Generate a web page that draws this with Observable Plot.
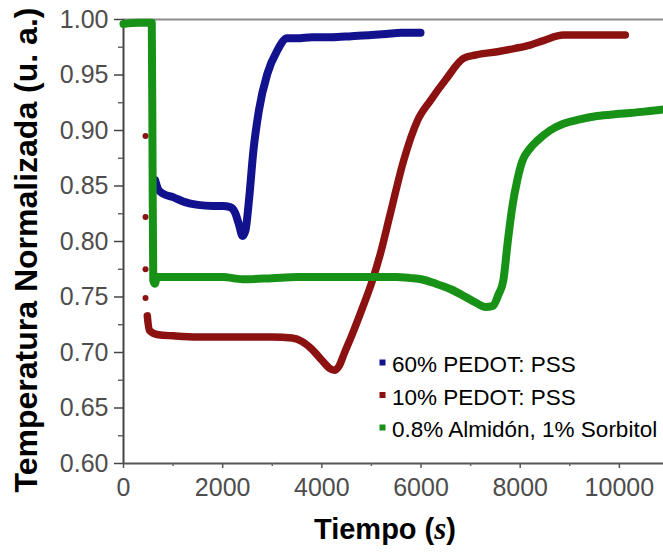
<!DOCTYPE html>
<html>
<head>
<meta charset="utf-8">
<script src="https://cdn.jsdelivr.net/npm/d3@7"></script>
<script src="https://cdn.jsdelivr.net/npm/@observablehq/plot@0.6"></script>
<style>
  html, body { margin: 0; padding: 0; background: #fff; }
  #chart { width: 663px; height: 552px; }
</style>
</head>
<body>
<div id="chart"></div>
<script>
// ---- Data ----
const seriesNames = ["60% PEDOT: PSS", "10% PEDOT: PSS", "0.8% Almidón, 1% Sorbitol"];
const seriesColors = ["#12128f", "#8c1212", "#179217"];

// 60% PEDOT: PSS (blue)
const blueT = [640, 700, 800, 1000, 1200, 1500, 1800, 2000, 2150, 2250, 2330, 2400, 2460, 2530, 2620, 2730, 2900, 3100, 3300, 3500, 3800, 4200, 4600, 5000, 5300, 5600, 5990];
const blueV = [0.855, 0.847, 0.843, 0.840, 0.836, 0.833, 0.832, 0.832, 0.831, 0.826, 0.815, 0.805, 0.810, 0.837, 0.882, 0.918, 0.951, 0.972, 0.983, 0.983, 0.984, 0.984, 0.985, 0.986, 0.987, 0.988, 0.988];

// 10% PEDOT: PSS (red)
const redT = [480, 520, 700, 1000, 1500, 2000, 2500, 3000, 3400, 3600, 3800, 4000, 4150, 4250, 4350, 4450, 4600, 4800, 5020, 5180, 5380, 5650, 5930, 6190, 6500, 6860, 7100, 7540, 7900, 8200, 8470, 8870, 9500, 10120];
const redV = [0.733, 0.720, 0.716, 0.715, 0.714, 0.714, 0.714, 0.714, 0.713, 0.710, 0.703, 0.693, 0.686, 0.684, 0.688, 0.699, 0.715, 0.738, 0.765, 0.789, 0.825, 0.873, 0.909, 0.927, 0.946, 0.965, 0.968, 0.971, 0.974, 0.977, 0.981, 0.986, 0.986, 0.986];
// sparse samples of the red drop
const redDropT = [444, 444, 444, 444];
const redDropV = [0.895, 0.822, 0.775, 0.749];

// 0.8% Almidón, 1% Sorbitol (green)
const greenT = [0, 300, 570, 585, 600, 630, 680, 900, 1500, 2000, 2400, 3000, 3500, 4000, 4500, 5000, 5500, 5800, 6000, 6300, 6600, 6900, 7100, 7300, 7450, 7560, 7660, 7750, 7840, 7940, 8040, 8200, 8350, 8600, 8870, 9200, 9550, 10000, 10500, 10890];
const greenV = [0.996, 0.997, 0.997, 0.880, 0.765, 0.762, 0.768, 0.768, 0.768, 0.768, 0.766, 0.767, 0.768, 0.768, 0.768, 0.768, 0.768, 0.767, 0.766, 0.762, 0.757, 0.750, 0.745, 0.741, 0.742, 0.752, 0.765, 0.800, 0.831, 0.855, 0.872, 0.884, 0.891, 0.900, 0.906, 0.910, 0.913, 0.915, 0.917, 0.919];

// ticks
const xTicks = [0, 2000, 4000, 6000, 8000, 10000];
const xMinor = [1000, 3000, 5000, 7000, 9000];
const yTicks = [0.60, 0.65, 0.70, 0.75, 0.80, 0.85, 0.90, 0.95, 1.00];
const yMinor = [0.625, 0.675, 0.725, 0.775, 0.825, 0.875, 0.925, 0.975];

const xLabel = "Tiempo (";
const xLabelUnit = "s";
const yLabel = "Temperatura Normalizada (u. a.)";

// ---- Build tables ----
const mk = (T, V) => T.map((t, i) => ({t, v: V[i]}));
const blue = mk(blueT, blueV);
const red = mk(redT, redV);
const redDrop = mk(redDropT, redDropV);
const green = mk(greenT, greenV);

const FONT = "'Liberation Sans', Arial, sans-serif";
const W = 663, H = 552;
const svg = Plot.plot({
  width: W, height: H,
  marginLeft: 123, marginRight: 0, marginTop: 19, marginBottom: 89,
  style: {fontFamily: FONT, fontSize: "25px", color: "#4d4d4d", background: "#fff", overflow: "visible"},
  x: {domain: [0, 10890]},
  y: {domain: [0.6, 1.0]},
  marks: [
    Plot.ruleY([1.0], {stroke: "#8a8a8a", strokeWidth: 2}),
    Plot.ruleY([0.6], {stroke: "#555", strokeWidth: 2}),
    Plot.ruleX([0], {stroke: "#444", strokeWidth: 2}),
    Plot.axisY({ticks: yTicks, tickSize: 9, tickPadding: 6, tickFormat: d3.format(".2f"), label: null, stroke: "#444", strokeWidth: 1.5, fill: "#4d4d4d", fontSize: 25}),
    Plot.axisY({ticks: yMinor, tickSize: 5, tickFormat: () => "", label: null, stroke: "#666", strokeWidth: 1.5}),
    Plot.axisX({ticks: xTicks, tickSize: 5, tickPadding: 10, tickFormat: d3.format("d"), label: null, stroke: "#555", strokeWidth: 1.5, fill: "#4d4d4d", fontSize: 25}),
    Plot.axisX({ticks: xMinor, tickSize: 3, tickFormat: () => "", label: null, stroke: "#666", strokeWidth: 1.5}),
    Plot.dot(redDrop, {x: "t", y: "v", r: 3, fill: seriesColors[1], stroke: "none"}),
    Plot.lineY(blue, {x: "t", y: "v", stroke: seriesColors[0], strokeWidth: 8, curve: "monotone-x"}),
    Plot.lineY(red, {x: "t", y: "v", stroke: seriesColors[1], strokeWidth: 7.5, curve: "monotone-x"}),
    Plot.lineY(green, {x: "t", y: "v", stroke: seriesColors[2], strokeWidth: 8, curve: "monotone-x"})
  ]
});

const s = d3.select(svg);
// y axis title
s.append("text")
  .attr("transform", "translate(37,250) rotate(-90)")
  .attr("text-anchor", "middle")
  .attr("font-family", FONT)
  .attr("font-weight", "bold")
  .attr("font-size", 32)
  .attr("fill", "#000")
  .text(yLabel);
// x axis title
const xt = s.append("text")
  .attr("x", 385).attr("y", 539)
  .attr("text-anchor", "middle")
  .attr("font-family", FONT)
  .attr("font-weight", "bold")
  .attr("font-size", 29)
  .attr("fill", "#000");
xt.append("tspan").text(xLabel);
xt.append("tspan").attr("font-family", "'Liberation Serif', 'DejaVu Serif', serif").attr("font-style", "italic").attr("font-size", 31).text(xLabelUnit);
xt.append("tspan").text(")");

// legend
const lg = s.append("g").attr("font-family", FONT).attr("font-size", 22.5).attr("fill", "#000").attr("text-anchor", "start");
seriesNames.forEach((name, i) => {
  const by = 372 + i * 32.5;
  lg.append("rect").attr("x", 379.5).attr("y", by - 12.5).attr("width", 6).attr("height", 6).attr("fill", seriesColors[i]);
  lg.append("text").attr("x", 392).attr("y", by).attr("text-anchor", "start").text(name);
});

document.getElementById("chart").appendChild(svg);
</script>
</body>
</html>
